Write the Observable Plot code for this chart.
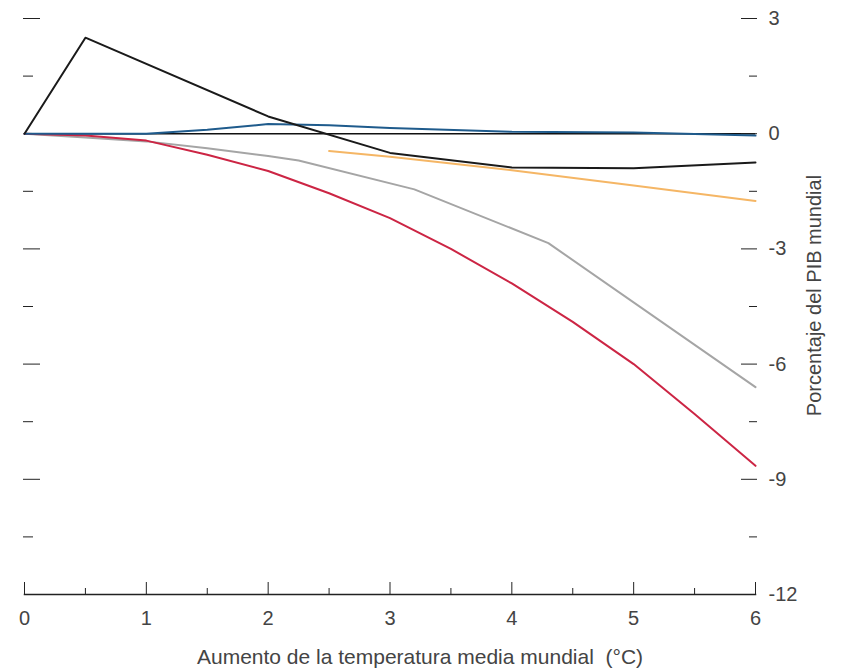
<!DOCTYPE html>
<html>
<head>
<meta charset="utf-8">
<script src="https://cdn.jsdelivr.net/npm/d3@7"></script>
<script src="https://cdn.jsdelivr.net/npm/@observablehq/plot@0.6"></script>
<style>
  html, body { margin: 0; padding: 0; background: #fff; }
  #chart svg { font-family: "Liberation Sans", Arial, sans-serif; }
</style>
</head>
<body>
<div id="chart"></div>
<script>
// Temperature increase (°C) and % of world GDP for each series
const blackTemp = [0, 0.5, 2, 3, 4, 5, 6];
const blackPct  = [0, 2.5, 0.45, -0.5, -0.88, -0.9, -0.75];

const blueTemp = [0, 1, 1.5, 2, 2.5, 3, 4, 5, 6];
const bluePct  = [0, 0, 0.1, 0.25, 0.22, 0.15, 0.05, 0.03, -0.05];

const orangeTemp = [2.5, 3, 4, 5, 6];
const orangePct  = [-0.45, -0.6, -0.95, -1.35, -1.75];

const grayTemp = [0, 0.5, 1, 1.5, 2, 2.25, 3.2, 4.3, 6];
const grayPct  = [0, -0.1, -0.2, -0.38, -0.58, -0.7, -1.45, -2.85, -6.6];

const redTemp = [0, 0.5, 1, 1.5, 2, 2.5, 3, 3.5, 4, 4.5, 5, 5.5, 6];
const redPct  = [0, -0.05, -0.18, -0.55, -0.97, -1.55, -2.2, -3.0, -3.9, -4.9, -6.0, -7.3, -8.65];

const xMajorTicks = [0, 1, 2, 3, 4, 5, 6];
const xMinorTicks = [0.5, 1.5, 2.5, 3.5, 4.5, 5.5];
const yMajorTicks = [3, 0, -3, -6, -9];
const yLabelTicks = [3, 0, -3, -6, -9, -12];
const yMinorTicks = [1.5, -1.5, -4.5, -7.5, -10.5];
const yLeftMajorTicks = [3, -3, -6, -9];

const xLabel = "Aumento de la temperatura media mundial  (°C)";
const yLabel = "Porcentaje del PIB mundial";

const toRows = (xs, ys) => xs.map((x, i) => ({temp: x, pct: ys[i]}));
const series = [
  {key: "gray", rows: toRows(grayTemp, grayPct), color: "#a5a5a5"},
  {key: "red", rows: toRows(redTemp, redPct), color: "#cc2544"},
  {key: "orange", rows: toRows(orangeTemp, orangePct), color: "#f5b665"},
  {key: "blue", rows: toRows(blueTemp, bluePct), color: "#1f5b8c"},
  {key: "black", rows: toRows(blackTemp, blackPct), color: "#1a1a1a"}
];

const textColor = "#444";
const fmt = d => String(d);

const chart = Plot.plot({
  width: 843,
  height: 669,
  marginLeft: 24,
  marginRight: 88,
  marginTop: 18,
  marginBottom: 75,
  style: {fontSize: "20px", color: textColor, background: "#fff"},
  x: {domain: [0, 6]},
  y: {domain: [-12, 3]},
  marks: [
    Plot.frame({anchor: "bottom", stroke: "#222", strokeWidth: 1.5}),
    Plot.ruleY([0], {stroke: "#111", strokeWidth: 1.5}),
    // x axis ticks (pointing up)
    Plot.axisX(xMajorTicks, {anchor: "bottom", tickSize: 13, dy: -12, text: null, label: null, stroke: "#222"}),
    Plot.axisX(xMinorTicks, {anchor: "bottom", tickSize: 7, dy: -6, text: null, label: null, stroke: "#222"}),
    Plot.axisX(xMajorTicks, {anchor: "bottom", tickSize: 0, tickPadding: 16, tickFormat: fmt, label: null, fill: textColor}),
    // right y axis ticks (pointing inward)
    Plot.axisY(yMajorTicks, {anchor: "right", tickSize: 16, dx: -15, text: null, label: null, stroke: "#222"}),
    Plot.axisY(yMinorTicks, {anchor: "right", tickSize: 8, dx: -7, text: null, label: null, stroke: "#222"}),
    Plot.axisY(yLabelTicks, {anchor: "right", tickSize: 0, tickPadding: 13, tickFormat: fmt, label: null, fill: textColor}),
    // left y axis ticks (pointing inward)
    Plot.axisY(yLeftMajorTicks, {anchor: "left", tickSize: 17, dx: 16, text: null, label: null, stroke: "#222"}),
    Plot.axisY(yMinorTicks, {anchor: "left", tickSize: 10, dx: 9, text: null, label: null, stroke: "#222"}),
    // axis titles
    Plot.text([xLabel], {frameAnchor: "bottom", text: d => d, dx: 30, dy: 69, textAnchor: "middle", lineAnchor: "bottom", fontSize: 21, fill: textColor}),
    Plot.text([yLabel], {frameAnchor: "right", text: d => d, dx: 59, dy: -11, textAnchor: "middle", lineAnchor: "middle", rotate: -90, fill: textColor}),
    ...series.map(s => Plot.line(s.rows, {x: "temp", y: "pct", stroke: s.color, strokeWidth: 2}))
  ]
});

document.getElementById("chart").appendChild(chart);
</script>
</body>
</html>
